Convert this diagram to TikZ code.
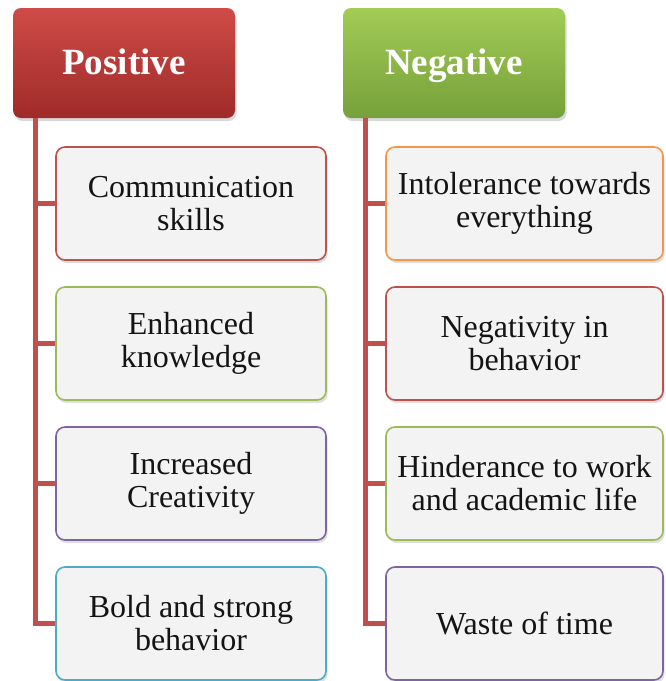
\documentclass[tikz,border=0pt]{standalone}
\usepackage{fontspec}
\setmainfont{Liberation Serif}
\newfontfamily\tnrfont{Liberation Serif}
\usetikzlibrary{shadows}
\definecolor{cred}{HTML}{C0504D}
\definecolor{cgreen}{HTML}{9BBB59}
\definecolor{cpurple}{HTML}{8064A2}
\definecolor{ccyan}{HTML}{4BACC6}
\definecolor{corange}{HTML}{F79646}
\definecolor{boxfill}{HTML}{F3F3F3}
\definecolor{redtop}{HTML}{CF4B47}
\definecolor{redbot}{HTML}{9E2B29}
\definecolor{greentop}{HTML}{A2CC55}
\definecolor{greenbot}{HTML}{76A03A}
\tikzset{
  hdr/.style={rounded corners=8pt, minimum width=222pt, minimum height=110pt, inner sep=0pt,
    text=white, font=\tnrfont\fontsize{37}{40}\selectfont\bfseries,
    text height=22pt, text depth=0pt,
    drop shadow={shadow xshift=1.5pt, shadow yshift=-3pt, opacity=0.3}},
  item/.style={draw=#1, line width=1.6pt, rounded corners=9pt, fill=boxfill,
    minimum height=113pt, inner sep=0pt, align=center, text=black!92,
    font=\tnrfont\fontsize{32}{33}\selectfont,
    drop shadow={shadow xshift=1.5pt, shadow yshift=-3pt, opacity=0.25}},
  litem/.style={item=#1, minimum width=270pt},
  ritem/.style={item=#1, minimum width=277pt},
  conn/.style={draw=cred, line width=5pt, line join=miter}
}
\begin{document}
\begin{tikzpicture}[x=1pt, y=-1pt]
\useasboundingbox (0,0) rectangle (665,681);
\coordinate (lt) at (35,118);
\coordinate (rt) at (365,118);
% headers
\node[hdr, top color=redtop, bottom color=redbot] (P) at (124,63) {Positive};
\node[hdr, top color=greentop, bottom color=greenbot] (N) at (454,63) {Negative};
% left boxes
\node[litem=cred] (p1) at (191,203.5) {Communication\\skills};
\node[litem=cgreen] (p2) at (191,343.5) {Enhanced\\knowledge};
\node[litem=cpurple] (p3) at (191,483.5) {Increased\\Creativity};
\node[litem=ccyan] (p4) at (191,623.5) {Bold and strong\\behavior};
% right boxes
\node[ritem=corange] (n1) at (524.5,203.5) {Intolerance towards\\everything};
\node[ritem=cred] (n2) at (524.5,343.5) {Negativity in\\behavior};
\node[ritem=cgreen] (n3) at (524.5,483.5) {Hinderance to work\\and academic life};
\node[ritem=cpurple] (n4) at (524.5,623.5) {Waste of time};
% connectors
\draw[conn] (lt) |- (p4.west);
\draw[conn] (lt |- p1.west) -- (p1.west);
\draw[conn] (lt |- p2.west) -- (p2.west);
\draw[conn] (lt |- p3.west) -- (p3.west);
\draw[conn] (rt) |- (n4.west);
\draw[conn] (rt |- n1.west) -- (n1.west);
\draw[conn] (rt |- n2.west) -- (n2.west);
\draw[conn] (rt |- n3.west) -- (n3.west);
\end{tikzpicture}
\end{document}
